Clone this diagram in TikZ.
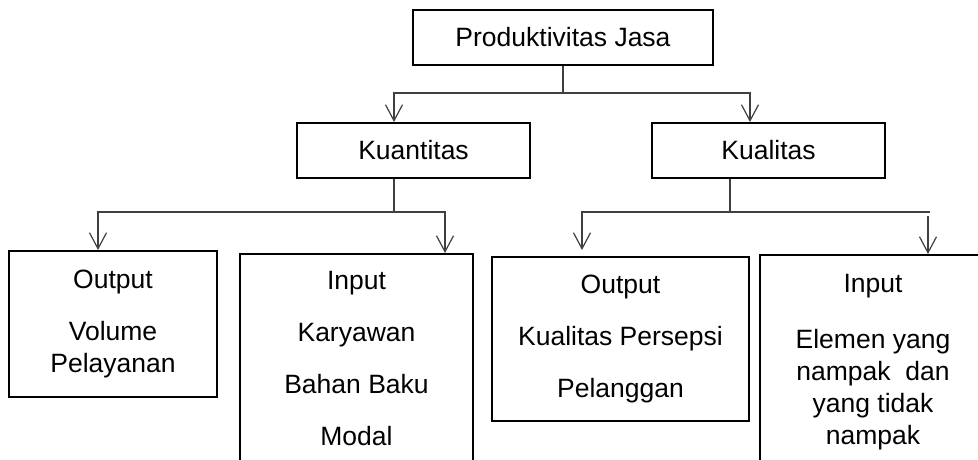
\documentclass[tikz,border=0pt]{standalone}
\usepackage{fontspec}
\setmainfont{Liberation Sans}
\usetikzlibrary{arrows.meta}
\usetikzlibrary{positioning}
\usetikzlibrary{calc}

\begin{document}
\begin{tikzpicture}[x=1pt, y=-1pt,
    every node/.style={rectangle, draw=black, line width=2pt, align=center, inner sep=0pt,
      font=\fontsize{26.5}{32}\selectfont},
    conn/.style={draw=black!75, line width=1.2pt},
    arr/.style={conn, -{Straight Barb[length=16pt, width=17pt, line width=1.2pt]}}]

      % Page area
      \useasboundingbox (0,0) rectangle (978,460);
      \clip (0,0) rectangle (978,460);

      % Width and height of the middle boxes
      \def\wmid{233pt}
      \def\hmid{55pt}

      % Top box
      \node[minimum width=300pt, minimum height=\hmid] (prod) at (563,37.5) {Produktivitas Jasa};

      % Middle boxes
      \node[minimum width=\wmid, minimum height=\hmid] (kuan) at (413.5,150.5) {Kuantitas};
      \node[minimum width=\wmid, minimum height=\hmid] (kual) at (768.5,150.5) {Kualitas};

      % Bottom boxes
      \node[minimum width=208pt, minimum height=146pt] (out1) at (113,324)
        {Output\\[20pt]Volume\\Pelayanan};
      \node[anchor=north, minimum width=\wmid, minimum height=210pt] (in1) at (356.5,253)
        {Input\\[20pt]Karyawan\\[20pt]Bahan Baku\\[20pt]Modal};
      \node[minimum width=257pt, minimum height=164pt] (out2) at (620.5,339)
        {Output\\[20pt]Kualitas Persepsi\\[20pt]Pelanggan};
      \node[anchor=north, minimum width=226pt, minimum height=214pt] (in2) at (873,254)
        {Input\\[24pt]Elemen yang\\nampak\ \ dan\\yang tidak\\nampak};

      % Levels of the horizontal lines
      \coordinate (bus1) at (0,93);
      \coordinate (bus2) at (0,212);

      % Stems under the boxes
      \coordinate (kuanstem) at ([xshift=-19.5pt]kuan.south);
      \coordinate (kualstem) at ([xshift=-38.5pt]kual.south);
      \coordinate (gapend) at (928,216);

      % Top box to the middle boxes
      \draw[conn] (prod.south) -- (prod.south |- bus1);
      \draw[arr] (prod.south |- bus1) -| ([xshift=-19.5pt]kuan.north);
      \draw[arr] (prod.south |- bus1) -| ([xshift=-18.5pt]kual.north);

      % Kuantitas to its two boxes
      \draw[conn] (kuanstem) -- (kuanstem |- bus2);
      \draw[arr] (kuanstem |- bus2) -| ([xshift=-15pt]out1.north);
      \draw[arr] (kuanstem |- bus2) -| ([xshift=88.5pt]in1.north);

      % Kualitas to its two boxes
      \draw[conn] (kualstem) -- (kualstem |- bus2);
      \draw[arr, shorten >=6pt] (kualstem |- bus2) -| ([xshift=-38.5pt]out2.north);
      \draw[conn] (kualstem |- bus2) -- ++(200,0);
      \draw[arr] (gapend) -- (gapend |- in2.north);

    \end{tikzpicture}
\end{document}
